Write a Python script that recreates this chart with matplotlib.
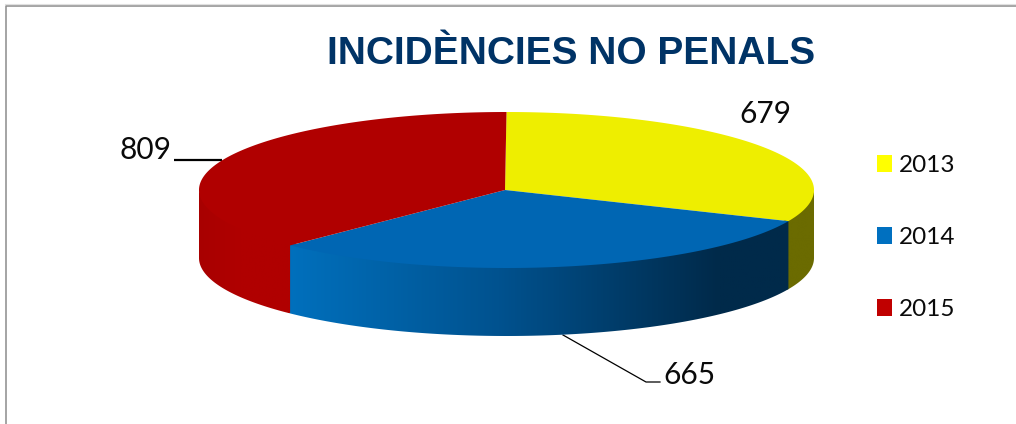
import numpy as np
import matplotlib
matplotlib.use("Agg")
import matplotlib.pyplot as plt
from matplotlib.colors import LinearSegmentedColormap
from matplotlib.patches import Polygon, Rectangle

# les données
years = ["2013", "2014", "2015"]
values = [679, 665, 809]
title = "INCIDÈNCIES NO PENALS"

top_colors = ["#eeee00", "#0066b3", "#b00000"]
legend_colors = ["#ffff00", "#0070c0", "#c00000"]

# geometrie du camembert (pixels)
cx, cy = 506.5, 190
rx, ry = 307.5, 78
depth = 68


def arc(t0, t1, dy=0, n=200):
    t = np.linspace(t0, t1, n)
    return np.column_stack([cx + rx * np.sin(t), cy - ry * np.cos(t) + dy])


fig = plt.figure(figsize=(10.16, 4.24), dpi=100, facecolor="white")
ax = fig.add_axes([0, 0, 1, 1])
ax.set_xlim(0, 1016)
ax.set_ylim(424, 0)
ax.axis("off")

# angles des parts, sens horaire depuis le haut
edges = np.concatenate([[0], np.cumsum(values)]) / np.sum(values) * 2 * np.pi

# faces laterales
side_maps = [
    LinearSegmentedColormap.from_list("y", ["#6b6b00", "#6b6b00"]),
    LinearSegmentedColormap.from_list("b", [(0, "#0070bd"), (0.42, "#00528f"), (0.86, "#002a4a"), (1, "#002a4a")]),
    LinearSegmentedColormap.from_list("r", [(0, "#a80000"), (0.45, "#b00000"), (1, "#b00000")]),
]
for i in range(3):
    t0 = max(edges[i], np.pi / 2)
    t1 = min(edges[i + 1] + 0.01, 3 * np.pi / 2)
    if t1 <= t0:
        continue
    # on remonte un peu sous le dessus pour eviter le filet blanc
    pts = np.vstack([arc(t0, t1, -3), arc(t0, t1, depth)[::-1]])
    poly = Polygon(pts, closed=True, facecolor="none", edgecolor="none")
    ax.add_patch(poly)
    x0, x1 = pts[:, 0].min(), pts[:, 0].max()
    y0, y1 = pts[:, 1].min(), pts[:, 1].max()
    grad = np.linspace(0, 1, 256)[None, :]
    im = ax.imshow(grad, cmap=side_maps[i], vmin=0, vmax=1, extent=[x0, x1, y1, y0], aspect="auto", zorder=2)
    im.set_clip_path(poly)
ax.set_xlim(0, 1016)
ax.set_ylim(424, 0)

# dessus
for i in range(3):
    pts = np.vstack([[cx - 1.5, cy], arc(edges[i], edges[i + 1])])
    ax.add_patch(Polygon(pts, closed=True, facecolor=top_colors[i], edgecolor="none", zorder=3))

# cadre
ax.plot([5.5, 5.5, 1016], [424, 5.5, 5.5], color="#8c8c8c", lw=1.1, solid_capstyle="butt", zorder=1)
ax.plot([5, 1016], [4.2, 4.2], color="#e0e0e0", lw=0.8, zorder=1)

ax.text(571, 64, title, fontsize=28, fontweight="bold", color="#003366",
        family="Liberation Sans", ha="center", va="baseline")

# etiquettes et lignes de rappel
lab = dict(fontsize=21.5, family="Lato", color="#0a0a0a", va="center", ha="center")
ax.text(765, 114, str(values[0]), **lab)
ax.text(689, 374.5, str(values[1]), **lab)
ax.text(145.5, 150, str(values[2]), **lab)
ax.plot([174, 222], [159.5, 159.5], color="black", lw=1.6, solid_capstyle="butt", zorder=1)
ax.plot([563, 646, 660], [335, 382, 382], color="black", lw=0.9, zorder=1)

# legende
for i, yr in enumerate(years):
    yy = 163 + 72 * i
    ax.add_patch(Rectangle((877, yy - 8.5), 15, 17, facecolor=legend_colors[i], edgecolor="none"))
    ax.text(899, yy + 2, yr, fontsize=17.5, family="Lato", color="#0a0a0a", va="center", ha="left")

fig.savefig("out.png", dpi=100)
